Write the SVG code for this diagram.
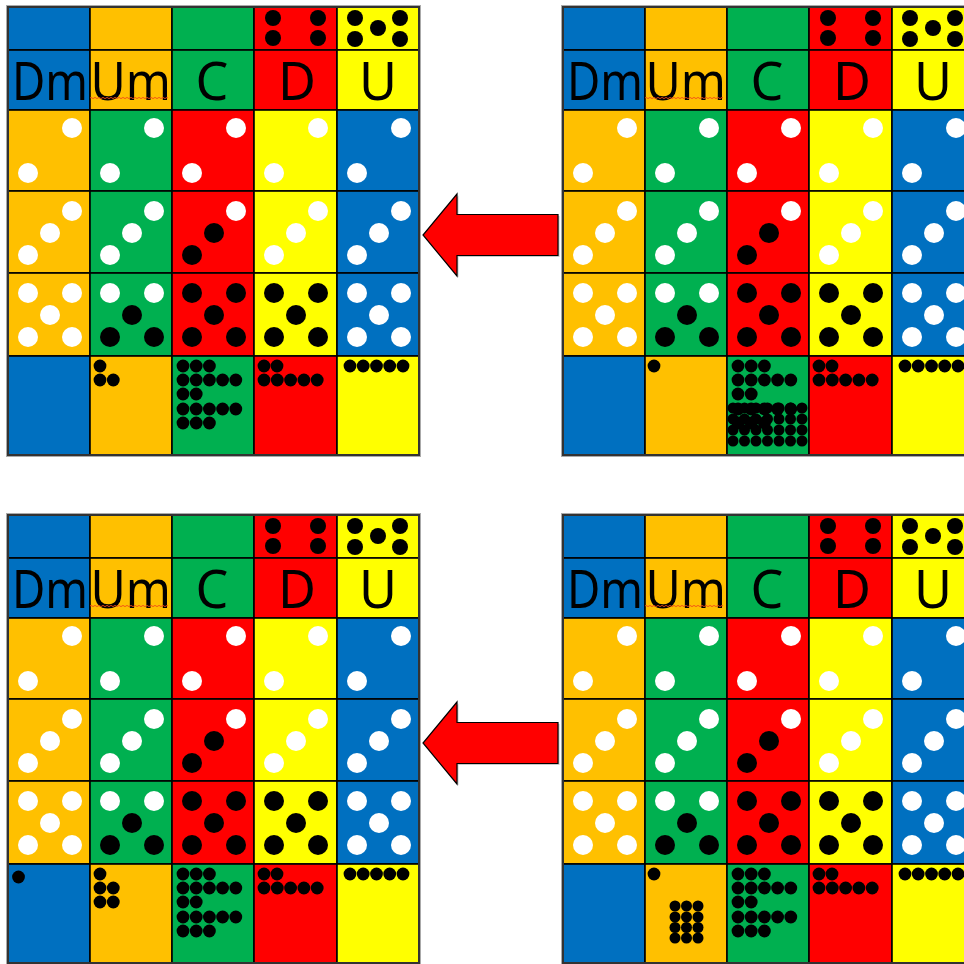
<svg xmlns="http://www.w3.org/2000/svg" width="964" height="964" viewBox="0 0 964 964">
<style>
.c rect{stroke:#000;stroke-width:1.6}
.bl{fill:#0070C0}.or{fill:#FFC000}.gr{fill:#00B050}.rd{fill:#FF0000}.ye{fill:#FFFF00}
.w{fill:#fff}.k{fill:#000}
.t{font-family:"Noto Sans","Open Sans",sans-serif;font-size:52px;fill:#000}
.frame{fill:none;stroke:#333;stroke-width:2}
.frame2{fill:none;stroke:#aaa;stroke-width:1}
.arrow{fill:#FF0000;stroke:#000;stroke-width:1.2;stroke-linejoin:miter}
.shadow{fill:#888;opacity:0.45}
</style>
<defs>
<g id="base">
<g class="c">
<rect class="bl" x="0" y="0" width="82" height="43"/><rect class="or" x="82" y="0" width="82" height="43"/><rect class="gr" x="164" y="0" width="82" height="43"/><rect class="rd" x="246" y="0" width="83" height="43"/><rect class="ye" x="329" y="0" width="82" height="43"/>
<rect class="bl" x="0" y="43" width="82" height="60"/><rect class="or" x="82" y="43" width="82" height="60"/><rect class="gr" x="164" y="43" width="82" height="60"/><rect class="rd" x="246" y="43" width="83" height="60"/><rect class="ye" x="329" y="43" width="82" height="60"/>
<rect class="or" x="0" y="103" width="82" height="81"/><rect class="gr" x="82" y="103" width="82" height="81"/><rect class="rd" x="164" y="103" width="82" height="81"/><rect class="ye" x="246" y="103" width="83" height="81"/><rect class="bl" x="329" y="103" width="82" height="81"/>
<rect class="or" x="0" y="184" width="82" height="82"/><rect class="gr" x="82" y="184" width="82" height="82"/><rect class="rd" x="164" y="184" width="82" height="82"/><rect class="ye" x="246" y="184" width="83" height="82"/><rect class="bl" x="329" y="184" width="82" height="82"/>
<rect class="or" x="0" y="266" width="82" height="83"/><rect class="gr" x="82" y="266" width="82" height="83"/><rect class="rd" x="164" y="266" width="82" height="83"/><rect class="ye" x="246" y="266" width="83" height="83"/><rect class="bl" x="329" y="266" width="82" height="83"/>
<rect class="bl" x="0" y="349" width="82" height="99"/><rect class="or" x="82" y="349" width="82" height="99"/><rect class="gr" x="164" y="349" width="82" height="99"/><rect class="rd" x="246" y="349" width="83" height="99"/><rect class="ye" x="329" y="349" width="82" height="99"/>
</g>
<rect class="frame" x="0" y="0" width="411" height="448"/>
<rect class="frame2" x="-1.5" y="-1.5" width="414" height="451"/>
<g class="k">
<circle cx="265" cy="11" r="8"/><circle cx="310" cy="11" r="8"/><circle cx="265" cy="31" r="8"/><circle cx="310" cy="31" r="8"/>
<circle cx="347" cy="11" r="8"/><circle cx="392" cy="11" r="8"/><circle cx="370" cy="21" r="8"/><circle cx="347" cy="32" r="8"/><circle cx="392" cy="32" r="8"/>
</g>
<text class="t" x="4" y="93" textLength="76" lengthAdjust="spacingAndGlyphs">Dm</text>
<text class="t" x="82.5" y="93" textLength="80.5" lengthAdjust="spacingAndGlyphs">Um</text>
<path d="M82 91 q1 -1.2 2 0 t2 0 t2 0 t2 0 t2 0 t2 0 t2 0 t2 0 t2 0 t2 0 t2 0 t2 0 t2 0 t2 0 t2 0 t2 0 t2 0 t2 0 t2 0 t2 0 t2 0 t2 0 t2 0 t2 0 t2 0 t2 0 t2 0 t2 0 t2 0 t2 0 t2 0 t2 0 t2 0 t2 0 t2 0 t2 0 t2 0 t2 0 t2 0" fill="none" stroke="#F04A1A" stroke-width="0.9"/>
<text class="t" x="204" y="93" text-anchor="middle">C</text>
<text class="t" x="289" y="93" text-anchor="middle">D</text>
<text class="t" x="370" y="93" text-anchor="middle">U</text>
<g class="w">
<circle cx="64" cy="121" r="10"/><circle cx="20" cy="166" r="10"/>
<circle cx="146" cy="121" r="10"/><circle cx="102" cy="166" r="10"/>
<circle cx="228" cy="121" r="10"/><circle cx="184" cy="166" r="10"/>
<circle cx="310" cy="121" r="10"/><circle cx="266" cy="166" r="10"/>
<circle cx="393" cy="121" r="10"/><circle cx="349" cy="166" r="10"/>
</g>
<g class="w">
<circle cx="64" cy="204" r="10"/><circle cx="42" cy="226" r="10"/><circle cx="20" cy="248" r="10"/>
<circle cx="146" cy="204" r="10"/><circle cx="124" cy="226" r="10"/><circle cx="102" cy="248" r="10"/>
<circle cx="228" cy="204" r="10"/>
<circle cx="310" cy="204" r="10"/><circle cx="288" cy="226" r="10"/><circle cx="266" cy="248" r="10"/>
<circle cx="393" cy="204" r="10"/><circle cx="371" cy="226" r="10"/><circle cx="349" cy="248" r="10"/>
</g>
<g class="k"><circle cx="206" cy="226" r="10"/><circle cx="184" cy="248" r="10"/></g>
<g class="w">
<circle cx="20" cy="286" r="10"/><circle cx="64" cy="286" r="10"/><circle cx="42" cy="308" r="10"/><circle cx="20" cy="330" r="10"/><circle cx="64" cy="330" r="10"/>
<circle cx="102" cy="286" r="10"/><circle cx="146" cy="286" r="10"/>
<circle cx="349" cy="286" r="10"/><circle cx="393" cy="286" r="10"/><circle cx="371" cy="308" r="10"/><circle cx="349" cy="330" r="10"/><circle cx="393" cy="330" r="10"/>
</g>
<g class="k">
<circle cx="124" cy="308" r="10"/><circle cx="102" cy="330" r="10"/><circle cx="146" cy="330" r="10"/>
<circle cx="184" cy="286" r="10"/><circle cx="228" cy="286" r="10"/><circle cx="206" cy="308" r="10"/><circle cx="184" cy="330" r="10"/><circle cx="228" cy="330" r="10"/>
<circle cx="266" cy="286" r="10"/><circle cx="310" cy="286" r="10"/><circle cx="288" cy="308" r="10"/><circle cx="266" cy="330" r="10"/><circle cx="310" cy="330" r="10"/>
</g>
<g class="k">
<circle cx="175" cy="359" r="6.4"/><circle cx="188.2" cy="359" r="6.4"/><circle cx="201.4" cy="359" r="6.4"/>
<circle cx="175" cy="373" r="6.4"/><circle cx="188.2" cy="373" r="6.4"/><circle cx="201.4" cy="373" r="6.4"/><circle cx="214.6" cy="373" r="6.4"/><circle cx="227.8" cy="373" r="6.4"/>
<circle cx="175" cy="387" r="6.4"/><circle cx="188.2" cy="387" r="6.4"/>
<circle cx="175" cy="402" r="6.4"/><circle cx="188.2" cy="402" r="6.4"/><circle cx="201.4" cy="402" r="6.4"/><circle cx="214.6" cy="402" r="6.4"/><circle cx="227.8" cy="402" r="6.4"/>
<circle cx="175" cy="416" r="6.4"/><circle cx="188.2" cy="416" r="6.4"/><circle cx="201.4" cy="416" r="6.4"/>
<circle cx="256" cy="359" r="6.4"/><circle cx="269" cy="359" r="6.4"/>
<circle cx="256" cy="373" r="6.4"/><circle cx="269.3" cy="373" r="6.4"/><circle cx="282.6" cy="373" r="6.4"/><circle cx="295.9" cy="373" r="6.4"/><circle cx="309.2" cy="373" r="6.4"/>
<circle cx="342" cy="359" r="6.4"/><circle cx="355.2" cy="359" r="6.4"/><circle cx="368.5" cy="359" r="6.4"/><circle cx="381.7" cy="359" r="6.4"/><circle cx="395" cy="359" r="6.4"/>
</g>
</g>
<polygon id="arrowShape" points="135,7.5 34,7.5 34,-13 0,28 34,69 34,48.5 135,48.5"/>
</defs>

<g id="grid-top-left" transform="translate(8,7)">
<use href="#base"/>
<g class="k"><circle cx="92" cy="359" r="6.4"/><circle cx="92" cy="373" r="6.4"/><circle cx="105.3" cy="373" r="6.4"/></g>
</g>

<g id="grid-top-right" transform="translate(563,7)">
<use href="#base"/>
<g class="k"><circle cx="91" cy="359" r="6.4"/></g>
<g class="k">
<circle cx="170" cy="401" r="5.5"/><circle cx="181.5" cy="401" r="5.5"/><circle cx="193" cy="401" r="5.5"/><circle cx="204.5" cy="401" r="5.5"/><circle cx="216" cy="401" r="5.5"/><circle cx="227.5" cy="401" r="5.5"/><circle cx="239" cy="401" r="5.5"/>
<circle cx="170" cy="412" r="5.5"/><circle cx="181.5" cy="412" r="5.5"/><circle cx="193" cy="412" r="5.5"/><circle cx="204.5" cy="412" r="5.5"/><circle cx="216" cy="412" r="5.5"/><circle cx="227.5" cy="412" r="5.5"/><circle cx="239" cy="412" r="5.5"/>
<circle cx="170" cy="423" r="5.5"/><circle cx="181.5" cy="423" r="5.5"/><circle cx="193" cy="423" r="5.5"/><circle cx="204.5" cy="423" r="5.5"/><circle cx="216" cy="423" r="5.5"/><circle cx="227.5" cy="423" r="5.5"/><circle cx="239" cy="423" r="5.5"/>
<circle cx="170" cy="434" r="5.5"/><circle cx="181.5" cy="434" r="5.5"/><circle cx="193" cy="434" r="5.5"/><circle cx="204.5" cy="434" r="5.5"/><circle cx="216" cy="434" r="5.5"/><circle cx="227.5" cy="434" r="5.5"/><circle cx="239" cy="434" r="5.5"/>
</g>
</g>

<g id="grid-bottom-left" transform="translate(8,515)">
<use href="#base"/>
<g class="k">
<circle cx="10.5" cy="362" r="6.4"/>
<circle cx="92" cy="359" r="6.4"/><circle cx="92" cy="373" r="6.4"/><circle cx="105.3" cy="373" r="6.4"/><circle cx="92" cy="387" r="6.4"/><circle cx="105.3" cy="387" r="6.4"/>
</g>
</g>

<g id="grid-bottom-right" transform="translate(563,515)">
<use href="#base"/>
<g class="k"><circle cx="91" cy="359" r="6.4"/></g>
<g class="k">
<circle cx="112" cy="391" r="5.5"/><circle cx="123.5" cy="391" r="5.5"/><circle cx="135" cy="391" r="5.5"/>
<circle cx="112" cy="402" r="5.5"/><circle cx="123.5" cy="402" r="5.5"/><circle cx="135" cy="402" r="5.5"/>
<circle cx="112" cy="412.5" r="5.5"/><circle cx="123.5" cy="412.5" r="5.5"/><circle cx="135" cy="412.5" r="5.5"/>
<circle cx="112" cy="423" r="5.5"/><circle cx="123.5" cy="423" r="5.5"/><circle cx="135" cy="423" r="5.5"/>
</g>
</g>

<g id="connectors">
<g transform="translate(423,207)">
<use href="#arrowShape" class="shadow" transform="translate(1.5,1.5)"/>
<use href="#arrowShape" class="arrow"/>
</g>
<g transform="translate(423,715)">
<use href="#arrowShape" class="shadow" transform="translate(1.5,1.5)"/>
<use href="#arrowShape" class="arrow"/>
</g>
</g>
</svg>
